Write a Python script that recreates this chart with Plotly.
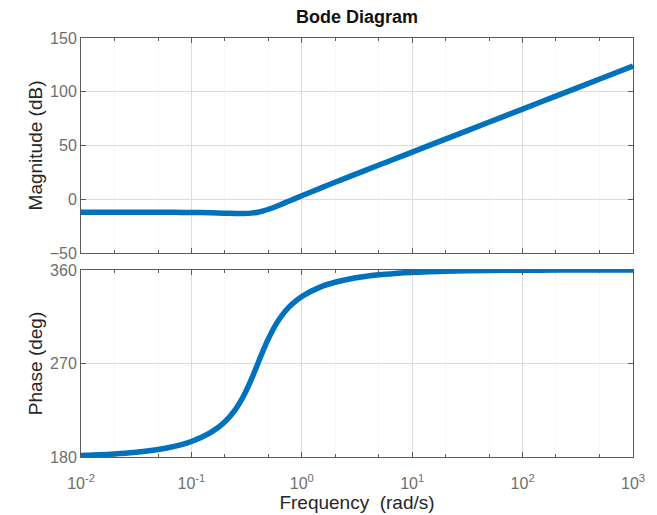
import plotly.graph_objects as go

# Frequency points (rad/s)
freq = [0.01, 0.02, 0.03, 0.05, 0.07, 0.1, 0.15, 0.2, 0.25, 0.3, 0.35, 0.4, 0.45,
        0.5, 0.6, 0.7, 0.8, 1, 1.5, 2, 3, 5, 7, 10, 20, 50, 100, 200, 500, 1000]
# Magnitude (dB)
mag_db = [-12.04, -12.05, -12.06, -12.11, -12.17, -12.30, -12.60, -12.94, -13.22,
          -13.27, -12.90, -12.04, -10.78, -9.30, -6.23, -3.40, -0.90, 3.25, 10.62,
          15.75, 22.89, 31.81, 37.67, 43.87, 55.92, 71.84, 83.88, 95.92, 111.84, 123.88]
# Phase (deg)
phase_deg = [181.4, 182.9, 184.3, 187.2, 190.2, 194.9, 203.6, 213.7, 225.7, 239.7,
             255.0, 270.0, 283.3, 294.2, 309.8, 319.7, 326.3, 334.5, 344.0, 348.2,
             352.3, 355.4, 356.7, 357.7, 358.9, 359.5, 359.8, 359.9, 360.0, 360.0]

x_tickvals = [0.01, 0.1, 1, 10, 100, 1000]
x_ticktext = ["10<sup>-2</sup>", "10<sup>-1</sup>", "10<sup>0</sup>",
              "10<sup>1</sup>", "10<sup>2</sup>", "10<sup>3</sup>"]
mag_ticks = [-50, 0, 50, 100, 150]
phase_ticks = [180, 270, 360]

LINE = "#0072BD"
AX = "#5a5a5a"
TICKC = "#6e6e6e"
FONT = "Liberation Sans, Arial, Helvetica, sans-serif"

fig = go.Figure()
fig.add_trace(go.Scatter(x=freq, y=mag_db, mode="lines", xaxis="x", yaxis="y",
                         line=dict(color=LINE, width=5.5, shape="spline", smoothing=0.6),
                         showlegend=False))
fig.add_trace(go.Scatter(x=freq, y=phase_deg, mode="lines", xaxis="x2", yaxis="y2",
                         line=dict(color=LINE, width=5.5, shape="spline", smoothing=0.6),
                         showlegend=False))

common_x = dict(
    type="log", range=[-2, 3], showline=True, linecolor=AX, linewidth=1, mirror="ticks",
    ticks="inside", ticklen=5, tickcolor=AX, tickvals=x_tickvals, automargin=False,
    showgrid=True, gridcolor="#dcdcdc", gridwidth=1, zeroline=False,
    minor=dict(ticks="inside", ticklen=3, tickcolor=AX, showgrid=True,
               gridcolor="#e6e6e6", griddash="1px,3px", gridwidth=1),
    tickfont=dict(family=FONT, size=16, color=TICKC),
)
common_y = dict(
    showline=True, linecolor=AX, linewidth=1, mirror="ticks", ticks="inside",
    ticklen=5, tickcolor=AX, showgrid=True, gridcolor="#dcdcdc", gridwidth=1,
    zeroline=False, automargin=False, tickfont=dict(family=FONT, size=16, color=TICKC),
)

fig.update_layout(
    width=657, height=515,
    margin=dict(l=81, r=24, t=38, b=58, autoexpand=False),
    paper_bgcolor="white", plot_bgcolor="white",
    title=dict(text="<b>Bode Diagram</b>", x=357 / 657, xanchor="center",
               y=1 - 17 / 515, yanchor="middle",
               font=dict(family=FONT, size=18, color="#111111")),
    xaxis=dict(common_x, anchor="y", domain=[0, 1], showticklabels=False, matches="x2",
               ticktext=x_ticktext),
    yaxis=dict(common_y, domain=[204 / 419, 1], range=[-50, 150], tickvals=mag_ticks,
               title=dict(text="Magnitude (dB)", standoff=2,
                          font=dict(family=FONT, size=19, color="#262626"))),
    xaxis2=dict(common_x, anchor="y2", domain=[0, 1], ticktext=x_ticktext,
                ticklabelstandoff=12,
                title=dict(text="Frequency&nbsp;&nbsp;(rad/s)", standoff=4,
                           font=dict(family=FONT, size=19, color="#262626"))),
    yaxis2=dict(common_y, domain=[0, 187 / 419], range=[180, 360], tickvals=phase_ticks,
                title=dict(text="Phase (deg)", standoff=2,
                           font=dict(family=FONT, size=19, color="#262626"))),
)

fig.write_html("out.html", config={"displayModeBar": False},
               post_script="document.body.style.margin='0px';")
